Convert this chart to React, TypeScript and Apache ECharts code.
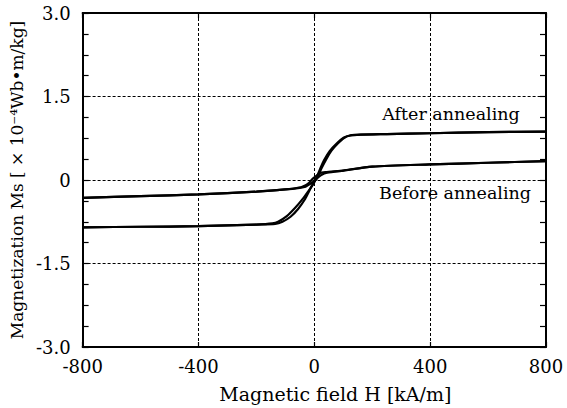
import React, { useEffect, useRef } from "react";
import * as echarts from "echarts";

// Magnetic field H [kA/m] vs. magnetization Ms [×10⁻⁴ Wb·m/kg]
const fieldRange = { min: -800, max: 800, step: 400 };
const magRange = { min: -3.0, max: 3.0, step: 1.5 };

// After annealing — ascending branch (H increasing)
const afterUp: [number, number][] = [
  [-800, -0.85], [-600, -0.84], [-400, -0.83], [-200, -0.8], [-145, -0.78],
  [-125, -0.75], [-95, -0.65], [-66, -0.5], [-40, -0.34], [-18, -0.18],
  [-2, -0.06], [9, 0.06], [20, 0.2], [34, 0.36], [53, 0.52], [78, 0.66],
  [101, 0.76], [122, 0.8], [160, 0.815], [250, 0.825], [400, 0.84],
  [600, 0.86], [800, 0.87],
];

// After annealing — descending branch (H decreasing)
const afterDown: [number, number][] = [
  [800, 0.87], [600, 0.86], [400, 0.84], [250, 0.825], [160, 0.815],
  [125, 0.8], [104, 0.76], [82, 0.66], [58, 0.52], [40, 0.36], [24, 0.2],
  [12, 0.06], [-4, -0.06], [-18, -0.2], [-34, -0.36], [-56, -0.52],
  [-82, -0.66], [-110, -0.75], [-135, -0.79], [-200, -0.8], [-400, -0.83],
  [-600, -0.84], [-800, -0.85],
];

// Before annealing — ascending branch
const beforeUp: [number, number][] = [
  [-800, -0.32], [-600, -0.29], [-400, -0.26], [-200, -0.21], [-100, -0.17],
  [-50, -0.14], [-30, -0.12], [-14, -0.07], [0, -0.02], [12, 0.04],
  [24, 0.09], [44, 0.13], [100, 0.17], [200, 0.24], [400, 0.28],
  [600, 0.31], [800, 0.34],
];

// Before annealing — descending branch
const beforeDown: [number, number][] = [
  [800, 0.34], [600, 0.31], [400, 0.28], [200, 0.24], [100, 0.17],
  [38, 0.14], [18, 0.12], [6, 0.07], [-6, 0.02], [-16, -0.04],
  [-28, -0.09], [-46, -0.13], [-100, -0.17], [-200, -0.21], [-400, -0.26],
  [-600, -0.29], [-800, -0.32],
];

const FONT = "DejaVu Serif";

const fmtMag = (v: number) => (Math.abs(v) < 1e-9 ? "0" : v.toFixed(1));

export default function App() {
  const ref = useRef<HTMLDivElement>(null);

  useEffect(() => {
    document.body.style.margin = "0";
    const chart = echarts.init(ref.current!, null, { renderer: "svg" });

    const gridDash = { color: "#000", width: 1, type: [3, 2] as number[] };
    const frameLine = { show: true, onZero: false, lineStyle: { color: "#000", width: 2 } };
    const tickStyle = { color: "#000", width: 1.2 };

    const curve = (name: string, data: [number, number][]) => ({
      name,
      type: "line" as const,
      data,
      showSymbol: false,
      smooth: 0.25,
      lineStyle: { color: "#000", width: 2.2 },
      silent: true,
    });

    chart.setOption({
      animation: false,
      backgroundColor: "#fff",
      grid: { left: 72, right: 21, top: 13, bottom: 57, containLabel: false },
      xAxis: [
        {
          type: "value",
          position: "bottom",
          min: fieldRange.min,
          max: fieldRange.max,
          interval: fieldRange.step,
          axisLine: frameLine,
          axisTick: { show: true, inside: true, length: 5, lineStyle: tickStyle },
          axisLabel: {
            color: "#000",
            fontFamily: FONT,
            fontSize: 18,
            margin: 10,
            formatter: (v: number) => String(v),
          },
          splitLine: { show: true, lineStyle: gridDash },
          name: "Magnetic field H [kA/m]",
          nameLocation: "middle",
          nameGap: 37,
          nameTextStyle: { color: "#000", fontFamily: FONT, fontSize: 19, padding: [0, 0, 0, 42] },
        },
        {
          type: "value",
          position: "top",
          min: fieldRange.min,
          max: fieldRange.max,
          interval: fieldRange.step,
          axisLine: frameLine,
          axisTick: { show: true, inside: true, length: 5, lineStyle: tickStyle },
          axisLabel: { show: false },
          splitLine: { show: false },
        },
      ],
      yAxis: [
        {
          type: "value",
          position: "left",
          min: magRange.min,
          max: magRange.max,
          interval: magRange.step,
          axisLine: frameLine,
          axisTick: { show: true, inside: true, length: 6, lineStyle: tickStyle },
          minorTick: { show: true, splitNumber: 4, length: 6, lineStyle: tickStyle },
          axisLabel: {
            color: "#000",
            fontFamily: FONT,
            fontSize: 18,
            margin: 12,
            formatter: fmtMag,
          },
          splitLine: { show: true, lineStyle: gridDash },
          name: "Magnetization Ms [ × 10⁻⁴Wb•m/kg]",
          nameLocation: "middle",
          nameGap: 51,
          nameRotate: 90,
          nameTextStyle: { color: "#000", fontFamily: FONT, fontSize: 17 },
        },
        {
          type: "value",
          position: "right",
          min: magRange.min,
          max: magRange.max,
          interval: magRange.step,
          axisLine: frameLine,
          axisTick: { show: true, inside: true, length: 6, lineStyle: tickStyle },
          minorTick: { show: true, splitNumber: 4, length: 6, lineStyle: tickStyle },
          axisLabel: { show: false },
          splitLine: { show: false },
        },
      ],
      series: [
        curve("After annealing ↑", afterUp),
        curve("After annealing ↓", afterDown),
        curve("Before annealing ↑", beforeUp),
        curve("Before annealing ↓", beforeDown),
      ],
      graphic: [
        {
          type: "text",
          x: 451,
          y: 114,
          style: {
            text: "After annealing",
            fill: "#000",
            font: `17.5px "${FONT}"`,
            textAlign: "center",
            textVerticalAlign: "middle",
          },
        },
        {
          type: "text",
          x: 455,
          y: 193,
          style: {
            text: "Before annealing",
            fill: "#000",
            font: `17.5px "${FONT}"`,
            textAlign: "center",
            textVerticalAlign: "middle",
          },
        },
      ],
    });

    return () => chart.dispose();
  }, []);

  return (
    <div
      ref={ref}
      style={{ position: "absolute", left: 0, top: 0, width: 567, height: 408, background: "#fff" }}
    />
  );
}
